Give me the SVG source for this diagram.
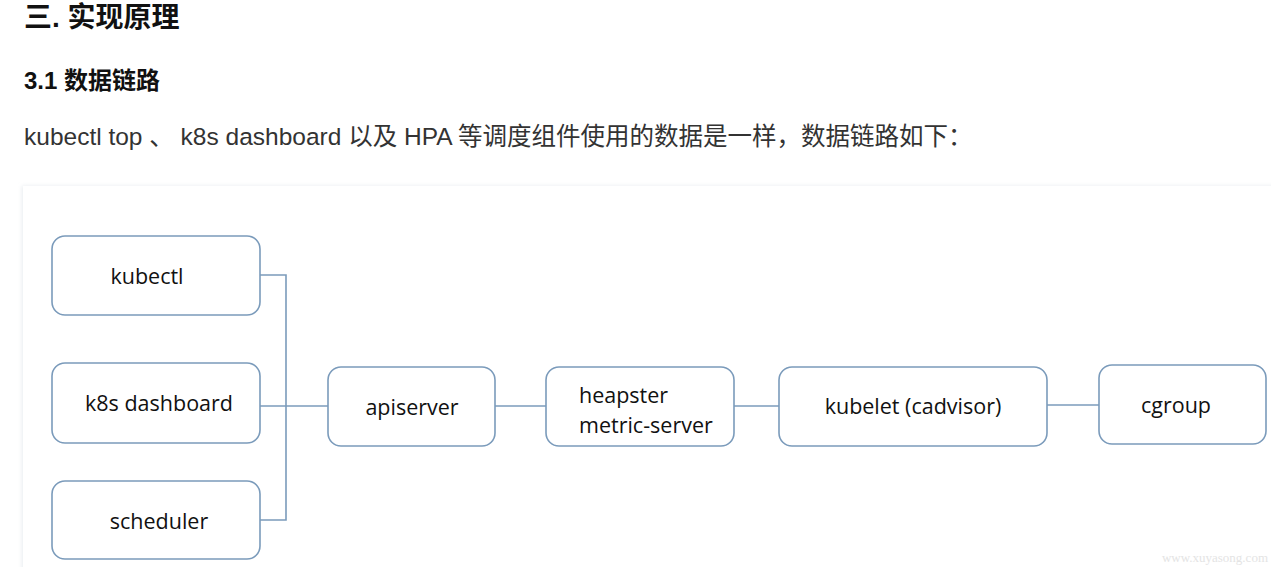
<svg xmlns="http://www.w3.org/2000/svg" width="1271" height="567" viewBox="0 0 1271 567">
<style>
.h{font-family:"Liberation Sans","Noto Sans CJK SC",sans-serif;font-weight:bold;fill:#111}
.p{font-family:"Liberation Sans","Noto Sans CJK SC",sans-serif;fill:#333;font-size:24.5px}
.box{fill:#fff;stroke:#7b9bbb;stroke-width:1.6}
.lbl{font-family:"Open Sans","Noto Sans",sans-serif;font-size:21.5px;fill:#111}
.c{fill:none;stroke:#7b9bbb;stroke-width:1.6}
</style>
<defs>
<filter id="sh" x="-5%" y="-5%" width="110%" height="110%">
<feGaussianBlur stdDeviation="2"/>
</filter>
</defs>
<rect width="1271" height="567" fill="#fff"/>
<text class="h" x="24" y="27" font-size="28">三. 实现原理</text>
<text class="h" x="24" y="89" font-size="24">3.1 数据链路</text>
<text class="p" x="24" y="145">kubectl top 、 k8s dashboard 以及 HPA 等调度组件使用的数据是一样，数据链路如下：</text>
<rect x="22" y="186" width="1260" height="400" fill="#e8ecf0" filter="url(#sh)"/>
<rect x="23" y="186" width="1260" height="400" fill="#fff"/>
<g id="connectors">
<path class="c" d="M260 275H286V520H260"/>
<path class="c" d="M260 406H328"/>
<path class="c" d="M495 406H546"/>
<path class="c" d="M729 406H779"/>
<path class="c" d="M1047 405H1099"/>
</g>
<g id="kubectl"><rect class="box" x="52" y="236" width="208" height="79" rx="13"/><text class="lbl" x="147" y="284" text-anchor="middle">kubectl</text></g>
<g id="k8s-dashboard"><rect class="box" x="52" y="363" width="208" height="80" rx="13"/><text class="lbl" x="159" y="411" text-anchor="middle">k8s dashboard</text></g>
<g id="scheduler"><rect class="box" x="52" y="481" width="208" height="78" rx="13"/><text class="lbl" x="159" y="529" text-anchor="middle">scheduler</text></g>
<g id="apiserver"><rect class="box" x="328" y="367" width="167" height="79" rx="13"/><text class="lbl" x="412" y="415" text-anchor="middle">apiserver</text></g>
<g id="heapster"><rect class="box" x="546" y="367" width="188" height="79" rx="13"/><text class="lbl" x="579" y="403">heapster</text><text class="lbl" x="579" y="433">metric-server</text></g>
<g id="kubelet"><rect class="box" x="779" y="367" width="268" height="79" rx="13"/><text class="lbl" x="913" y="414" text-anchor="middle">kubelet (cadvisor)</text></g>
<g id="cgroup"><rect class="box" x="1099" y="365" width="167" height="79" rx="13"/><text class="lbl" x="1176" y="413" text-anchor="middle">cgroup</text></g>
<text x="1268" y="562" text-anchor="end" font-family="Liberation Serif,serif" font-size="13" fill="#e4e4e4">www.xuyasong.com</text>
</svg>
